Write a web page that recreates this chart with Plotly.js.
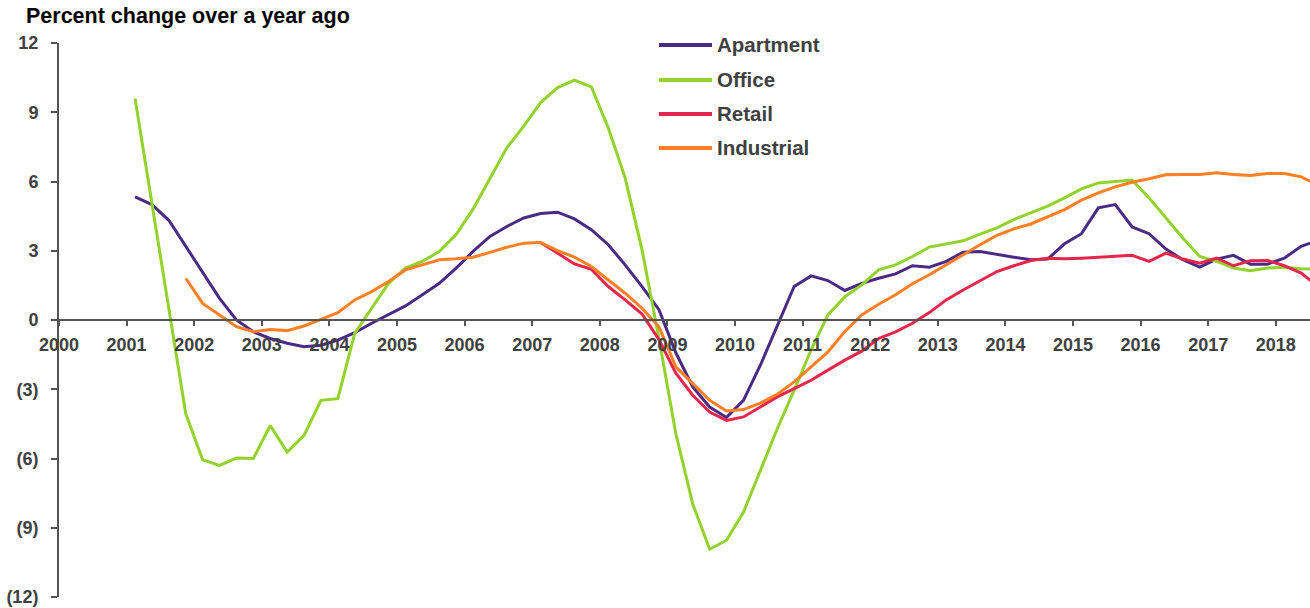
<!DOCTYPE html>
<html>
<head>
<meta charset="utf-8">
<script src="https://cdn.plot.ly/plotly-3.0.1.min.js"></script>
<style>
  html, body { margin: 0; padding: 0; background: #ffffff; }
  #chart { width: 1310px; height: 608px; }
</style>
</head>
<body>
<div id="chart"></div>
<script>
// ---- Data (quarterly, 2001Q1 .. 2018Q3) ----
var startYear = 2001;
var years = [2000, 2001, 2002, 2003, 2004, 2005, 2006, 2007, 2008, 2009,
             2010, 2011, 2012, 2013, 2014, 2015, 2016, 2017, 2018];
var yearLabels = ["2000", "2001", "2002", "2003", "2004", "2005", "2006", "2007", "2008", "2009",
                  "2010", "2011", "2012", "2013", "2014", "2015", "2016", "2017", "2018"];
var yTickVals = [12, 9, 6, 3, 0, -3, -6, -9, -12];
var yTickText = ["12", "9", "6", "3", "0", "(3)", "(6)", "(9)", "(12)"];

var seriesNames = ["Apartment", "Office", "Retail", "Industrial"];
var seriesColors = ["#4B2A83", "#92D12E", "#E5264B", "#FF7F24"];

var apartment = [
  5.33, 5.00, 4.32, 3.19,
  2.03, 0.94, 0.00, -0.51,
  -0.80, -1.01, -1.16, -1.09,
  -0.87, -0.55, -0.14, 0.22,
  0.61, 1.09, 1.59, 2.25,
  2.97, 3.62, 4.05, 4.42,
  4.61, 4.67, 4.38, 3.91,
  3.26, 2.39, 1.45, 0.45,
  -1.42, -2.90, -3.77, -4.22,
  -3.48, -1.96, -0.22, 1.45,
  1.91, 1.71, 1.28, 1.59,
  1.81, 2.00, 2.35, 2.29,
  2.54, 2.94, 2.97, 2.83,
  2.72, 2.61, 2.64, 3.30,
  3.74, 4.86, 5.00, 4.03,
  3.74, 3.07, 2.61, 2.29,
  2.64, 2.80, 2.42, 2.42,
  2.68, 3.19, 3.45
];
var office = [
  9.60, 5.05, 0.50, -4.06,
  -6.06, -6.30, -5.98, -6.00,
  -4.57, -5.72, -5.00, -3.48,
  -3.41, -0.58, 0.51, 1.59,
  2.25, 2.54, 2.97, 3.70,
  4.80, 6.10, 7.46, 8.40,
  9.42, 10.07, 10.39, 10.10,
  8.33, 6.16, 3.04, -0.80,
  -4.93, -7.97, -9.93, -9.54,
  -8.33, -6.52, -4.71, -3.04,
  -1.30, 0.22, 1.01, 1.52,
  2.17, 2.39, 2.75, 3.16,
  3.30, 3.43, 3.72, 3.99,
  4.35, 4.64, 4.93, 5.29,
  5.68, 5.94, 6.01, 6.06,
  5.29, 4.42, 3.55, 2.75,
  2.54, 2.25, 2.13, 2.25,
  2.29, 2.22, 2.20
];
var retail = [
  null, null, null, null,
  null, null, null, null,
  null, null, null, null,
  null, null, null, null,
  null, null, null, null,
  null, null, null, null,
  3.36, 2.90, 2.43, 2.20,
  1.45, 0.87, 0.26, -0.85,
  -2.30, -3.26, -3.99, -4.35,
  -4.20, -3.77, -3.33, -2.97,
  -2.61, -2.17, -1.74, -1.35,
  -0.80, -0.51, -0.14, 0.32,
  0.87, 1.30, 1.71, 2.10,
  2.35, 2.58, 2.68, 2.65,
  2.68, 2.71, 2.75, 2.80,
  2.54, 2.90, 2.64, 2.46,
  2.68, 2.35, 2.57, 2.58,
  2.35, 2.03, 1.45
];
var industrial = [
  null, null, null, 1.81,
  0.72, 0.22, -0.29, -0.51,
  -0.41, -0.46, -0.26, 0.03,
  0.32, 0.87, 1.23, 1.67,
  2.17, 2.39, 2.61, 2.65,
  2.72, 2.93, 3.15, 3.33,
  3.36, 3.01, 2.72, 2.32,
  1.74, 1.16, 0.51, -0.30,
  -2.03, -2.75, -3.48, -3.94,
  -3.88, -3.60, -3.22, -2.68,
  -2.03, -1.38, -0.50, 0.22,
  0.68, 1.09, 1.57, 1.96,
  2.39, 2.83, 3.26, 3.67,
  3.95, 4.16, 4.46, 4.78,
  5.19, 5.51, 5.77, 5.97,
  6.12, 6.29, 6.30, 6.30,
  6.38, 6.30, 6.26, 6.35,
  6.35, 6.20, 5.85
];
var seriesValues = [apartment, office, retail, industrial];

// quarter-centre positions in decimal years
var quarterX = apartment.map(function (_, i) {
  return startYear + Math.floor(i / 4) + ((i % 4) + 0.5) / 4;
});

// ---- Layout geometry (pixels) ----
var W = 1310, H = 608;
var mL = 59, mR = 0, mT = 43, mB = 11;
var plotW = W - mL - mR, plotH = H - mT - mB;
function px2x(px) { return (px - mL) / plotW; }
function py2y(py) { return 1 - (py - mT) / plotH; }

var FONT = "Liberation Sans, Arial, Helvetica, sans-serif";
var AXIS_COLOR = "#555555";
var TEXT_COLOR = "#404040";

var traces = seriesNames.map(function (name, k) {
  return {
    type: "scatter",
    mode: "lines",
    name: name,
    x: quarterX,
    y: seriesValues[k],
    connectgaps: false,
    line: { color: seriesColors[k], width: 3 },
    hoverinfo: "x+y+name"
  };
});

// custom legend (keys + labels)
var legendRowsPx = [45, 80, 114, 148];
var shapes = [];
var annotations = [];
seriesNames.forEach(function (name, k) {
  shapes.push({
    type: "line", xref: "paper", yref: "paper",
    x0: px2x(659), x1: px2x(712),
    y0: py2y(legendRowsPx[k]), y1: py2y(legendRowsPx[k]),
    line: { color: seriesColors[k], width: 4 }
  });
  annotations.push({
    xref: "paper", yref: "paper",
    x: px2x(715), y: py2y(legendRowsPx[k] - 1),
    xanchor: "left", yanchor: "middle",
    text: "<b>" + name + "</b>",
    showarrow: false,
    font: { family: FONT, size: 20.5, color: TEXT_COLOR }
  });
});

var layout = {
  width: W, height: H,
  margin: { l: mL, r: mR, t: mT, b: mB, pad: 0 },
  paper_bgcolor: "#ffffff",
  plot_bgcolor: "#ffffff",
  showlegend: false,
  title: {
    text: "<b>Percent change over a year ago</b>",
    xref: "container", yref: "container",
    x: 26 / W, xanchor: "left",
    y: 1 - 15 / H, yanchor: "middle",
    font: { family: FONT, size: 21.5, color: "#000000" }
  },
  xaxis: {
    range: [2000, 2000 + plotW / 67.6],
    anchor: "free", position: 0.5,
    tickmode: "array", tickvals: years, ticktext: yearLabels,
    ticks: "outside", ticklen: 5, tickwidth: 2, tickcolor: AXIS_COLOR,
    ticklabelshift: 8.5,
    ticklabelstandoff: 3,
    showline: true, linecolor: AXIS_COLOR, linewidth: 2,
    showgrid: false, zeroline: false,
    tickfont: { family: FONT, size: 18, color: TEXT_COLOR, weight: "bold" },
    fixedrange: true
  },
  yaxis: {
    range: [-12, 12],
    tickmode: "array", tickvals: yTickVals, ticktext: yTickText,
    ticks: "outside", ticklen: 6, tickwidth: 2, tickcolor: AXIS_COLOR,
    ticklabelstandoff: 9,
    showline: true, linecolor: AXIS_COLOR, linewidth: 2,
    showgrid: false, zeroline: false,
    tickfont: { family: FONT, size: 18, color: TEXT_COLOR, weight: "bold" },
    fixedrange: true
  },
  shapes: shapes,
  annotations: annotations
};

Plotly.newPlot("chart", traces, layout, { displayModeBar: false, staticPlot: true });
</script>
</body>
</html>
